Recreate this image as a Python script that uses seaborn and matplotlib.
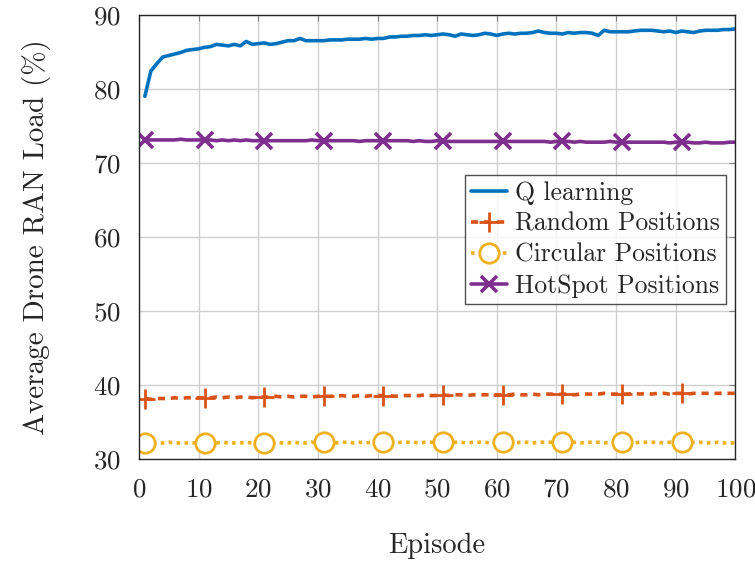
import matplotlib
matplotlib.use("Agg")
import matplotlib.pyplot as plt
import seaborn as sns
import numpy as np
import pandas as pd

episodes = list(range(1, 101))

q_learning = [
    79.0, 82.4, 83.4, 84.3, 84.5, 84.7, 84.9, 85.2, 85.3, 85.4,
    85.6, 85.7, 86.0, 85.9, 85.8, 86.0, 85.8, 86.4, 86.0, 86.1,
    86.2, 86.0, 86.1, 86.3, 86.5, 86.5, 86.8, 86.5, 86.5, 86.5,
    86.5, 86.6, 86.6, 86.6, 86.7, 86.7, 86.7, 86.8, 86.7, 86.8,
    86.8, 87.0, 87.0, 87.1, 87.1, 87.2, 87.2, 87.3, 87.2, 87.3,
    87.4, 87.3, 87.1, 87.4, 87.3, 87.2, 87.3, 87.5, 87.4, 87.2,
    87.4, 87.5, 87.4, 87.5, 87.5, 87.6, 87.8, 87.6, 87.5, 87.5,
    87.4, 87.6, 87.5, 87.6, 87.6, 87.5, 87.2, 87.9, 87.7, 87.7,
    87.7, 87.7, 87.8, 87.9, 87.9, 87.9, 87.8, 87.7, 87.8, 87.6,
    87.8, 87.7, 87.6, 87.8, 87.9, 87.9, 87.9, 88.0, 88.0, 88.1,
]

random_pos = [
    38.2, 38.1, 38.2, 38.2, 38.2, 38.3, 38.2, 38.3, 38.3, 38.3,
    38.3, 38.3, 38.4, 38.3, 38.4, 38.3, 38.4, 38.4, 38.3, 38.4,
    38.4, 38.4, 38.5, 38.4, 38.5, 38.4, 38.5, 38.5, 38.4, 38.5,
    38.5, 38.5, 38.5, 38.6, 38.5, 38.5, 38.6, 38.5, 38.6, 38.6,
    38.6, 38.6, 38.5, 38.6, 38.6, 38.6, 38.6, 38.7, 38.6, 38.6,
    38.7, 38.6, 38.7, 38.7, 38.6, 38.7, 38.7, 38.7, 38.7, 38.7,
    38.7, 38.7, 38.8, 38.7, 38.7, 38.8, 38.7, 38.8, 38.8, 38.7,
    38.8, 38.8, 38.7, 38.8, 38.8, 38.8, 38.8, 38.9, 38.8, 38.8,
    38.8, 38.8, 38.9, 38.8, 38.9, 38.8, 38.9, 38.9, 38.8, 38.9,
    38.9, 38.8, 38.9, 38.9, 38.9, 38.9, 38.9, 38.9, 38.9, 38.9,
]

circular_pos = [
    32.2, 32.2, 32.2, 32.2, 32.3, 32.2, 32.2, 32.2, 32.2, 32.2,
    32.2, 32.2, 32.2, 32.3, 32.2, 32.2, 32.2, 32.3, 32.2, 32.2,
    32.2, 32.2, 32.3, 32.2, 32.2, 32.3, 32.2, 32.2, 32.3, 32.2,
    32.3, 32.2, 32.2, 32.3, 32.3, 32.2, 32.3, 32.2, 32.3, 32.3,
    32.3, 32.3, 32.2, 32.3, 32.3, 32.3, 32.2, 32.3, 32.3, 32.3,
    32.3, 32.2, 32.3, 32.3, 32.2, 32.3, 32.3, 32.3, 32.2, 32.3,
    32.3, 32.3, 32.2, 32.3, 32.3, 32.2, 32.3, 32.3, 32.3, 32.3,
    32.3, 32.3, 32.3, 32.2, 32.3, 32.3, 32.3, 32.2, 32.3, 32.3,
    32.3, 32.3, 32.2, 32.3, 32.3, 32.3, 32.3, 32.2, 32.3, 32.3,
    32.3, 32.2, 32.3, 32.3, 32.2, 32.2, 32.3, 32.2, 32.2, 32.2,
]

hotspot_pos = [
    73.1, 73.1, 73.1, 73.1, 73.1, 73.1, 73.2, 73.1, 73.1, 73.1,
    73.1, 73.1, 73.0, 73.1, 73.0, 73.1, 73.0, 73.1, 73.0, 73.0,
    73.0, 73.0, 73.0, 73.0, 73.0, 73.0, 73.0, 73.0, 73.1, 73.0,
    73.0, 73.0, 73.0, 73.0, 73.0, 73.0, 72.9, 73.0, 73.0, 73.0,
    73.0, 73.0, 73.0, 73.0, 73.0, 72.9, 73.0, 72.9, 72.9, 73.0,
    72.9, 72.9, 72.9, 72.9, 72.9, 72.9, 72.9, 72.9, 72.9, 72.9,
    72.9, 72.9, 72.9, 72.9, 72.9, 72.9, 72.9, 72.9, 72.8, 72.9,
    72.9, 72.9, 72.8, 72.9, 72.8, 72.8, 72.8, 72.8, 72.9, 72.8,
    72.8, 72.8, 72.8, 72.8, 72.8, 72.8, 72.8, 72.8, 72.7, 72.8,
    72.8, 72.8, 72.7, 72.7, 72.8, 72.7, 72.7, 72.7, 72.8, 72.8,
]

sns.set_style("white")
plt.rcParams['font.family'] = ['cmr10', 'DejaVu Serif']
plt.rcParams['axes.formatter.use_mathtext'] = True
plt.rcParams['mathtext.fontset'] = 'cm'

df = pd.DataFrame({'episode': episodes, 'q': q_learning, 'rnd': random_pos,
                   'circ': circular_pos, 'hot': hotspot_pos})

fig = plt.figure(figsize=(7.55, 5.67), dpi=100)
ax = fig.add_axes([0.184, 0.19, 0.79, 0.784])

sns.lineplot(data=df, x='episode', y='q', ax=ax, color='#0072BD', lw=2.6,
             label='Q learning')
sns.lineplot(data=df, x='episode', y='rnd', ax=ax, color='#D95319', lw=2.6,
             linestyle=(0, (2, 1.6)), marker='+', markevery=10, markersize=14,
             markeredgecolor='#D95319', markeredgewidth=2.0,
             label='Random Positions')
sns.lineplot(data=df, x='episode', y='circ', ax=ax, color='#EDB120', lw=2.6,
             linestyle=(0, (1, 1.2)), marker='o', markevery=10, markersize=14,
             markerfacecolor='white', markeredgecolor='#EDB120',
             markeredgewidth=2.0, label='Circular Positions')
sns.lineplot(data=df, x='episode', y='hot', ax=ax, color='#7E2F8E', lw=2.6,
             marker='x', markevery=10, markersize=11, markeredgewidth=2.6,
             markeredgecolor='#7E2F8E', label='HotSpot Positions')

ax.set_xlim(0, 100)
ax.set_ylim(30, 90)
ax.set_xticks(range(0, 101, 10))
ax.set_yticks(range(30, 91, 10))
ax.grid(True, color='#d0d0d0', lw=1.0)
ax.tick_params(direction='in', length=4, color='#808080', top=True, right=True,
               labelsize=19.5, pad=13)
for s in ax.spines.values():
    s.set_color('#262626')
    s.set_linewidth(1.0)

ax.set_xlabel('Episode', fontsize=20.5, labelpad=23)
ax.set_ylabel('Average Drone RAN Load (%)', fontsize=21, labelpad=30)

leg = ax.legend(loc='upper right', bbox_to_anchor=(0.985, 0.64), fontsize=18.5,
                frameon=True, fancybox=False, edgecolor='#262626',
                handlelength=1.4, handletextpad=0.3, borderpad=0.25,
                labelspacing=0.28, borderaxespad=0)
leg.get_frame().set_linewidth(1.0)

fig.savefig('out.png', dpi=100)
